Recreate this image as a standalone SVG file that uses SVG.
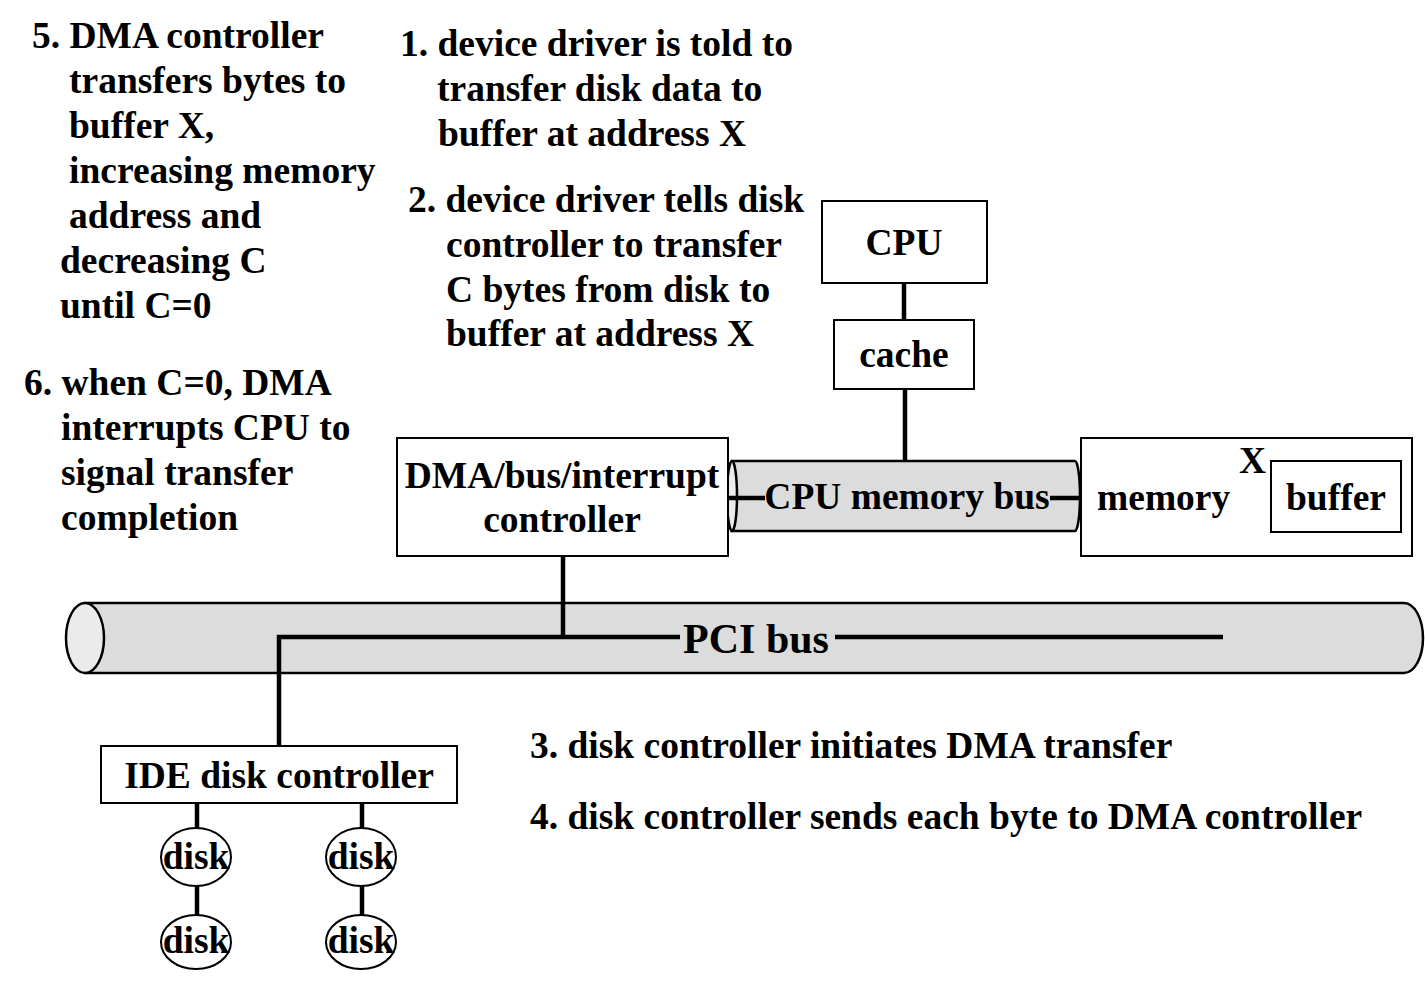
<svg xmlns="http://www.w3.org/2000/svg" width="1425" height="985" viewBox="0 0 1425 985">
<style>
text{font-family:"Liberation Serif","Times New Roman",serif;font-weight:bold;font-size:37.5px;fill:#000}
.c{text-anchor:middle}
.big{font-size:42px}
.box{fill:#fff;stroke:#000;stroke-width:2}
.bus{fill:#dcdcdc;stroke:#000;stroke-width:2.5}
.cap{fill:#ebebeb;stroke:#000;stroke-width:2.5}
.ln{stroke:#000;stroke-width:4.5;fill:none}
</style>
<rect width="1425" height="985" fill="#fff"/>
<g id="notes">
<text x="32" y="48">5. DMA controller</text>
<text x="69" y="93">transfers bytes to</text>
<text x="69" y="138">buffer X,</text>
<text x="69" y="183">increasing memory</text>
<text x="69" y="228">address and</text>
<text x="60" y="273">decreasing C</text>
<text x="60" y="318">until C=0</text>
<text x="24" y="395">6. when C=0, DMA</text>
<text x="61" y="440">interrupts CPU to</text>
<text x="61" y="485">signal transfer</text>
<text x="61" y="530">completion</text>
<text x="400" y="56">1. device driver is told to</text>
<text x="437" y="101">transfer disk data to</text>
<text x="438" y="146">buffer at address X</text>
<text x="408" y="212">2. device driver tells disk</text>
<text x="446" y="257">controller to transfer</text>
<text x="446" y="302">C bytes from disk to</text>
<text x="446" y="346">buffer at address X</text>
<text x="530" y="758">3. disk controller initiates DMA transfer</text>
<text x="530" y="829">4. disk controller sends each byte to DMA controller</text>
</g>
<g id="pci-bus">
<path class="bus" d="M85,603 H1404 A19,35 0 0 1 1404,673 H85 Z"/>
<ellipse class="cap" cx="85" cy="638" rx="19" ry="35"/>
</g>
<g id="cpu-memory-bus">
<path class="bus" d="M732,461 H1075 A5,35 0 0 1 1075,531 H732 Z"/>
<ellipse class="cap" cx="732" cy="496" rx="5" ry="35"/>
</g>
<g id="connectors">
<line class="ln" x1="904" y1="283" x2="904" y2="320"/>
<line class="ln" x1="905" y1="389" x2="905" y2="461"/>
<line class="ln" x1="727" y1="498" x2="765" y2="498"/>
<line class="ln" x1="1050" y1="498" x2="1081" y2="498"/>
<line class="ln" x1="563" y1="556" x2="563" y2="637"/>
<polyline class="ln" points="279,745 279,637 680,637"/>
<line class="ln" x1="835" y1="637" x2="1223" y2="637"/>
<line class="ln" x1="197" y1="803" x2="197" y2="828"/>
<line class="ln" x1="362" y1="803" x2="362" y2="828"/>
<line class="ln" x1="197" y1="886" x2="197" y2="916"/>
<line class="ln" x1="362" y1="886" x2="362" y2="916"/>
</g>
<text class="c" x="907" y="509">CPU memory bus</text>
<text class="c big" x="756" y="653">PCI bus</text>
<g id="cpu">
<rect class="box" x="822" y="201" width="165" height="82"/>
<text class="c" x="904" y="255">CPU</text>
</g>
<g id="cache">
<rect class="box" x="834" y="320" width="140" height="69"/>
<text class="c" x="904" y="367">cache</text>
</g>
<g id="dma-controller">
<rect class="box" x="397" y="438" width="331" height="118"/>
<text class="c" x="562" y="488">DMA/bus/interrupt</text>
<text class="c" x="562" y="532">controller</text>
</g>
<g id="memory">
<rect class="box" x="1081" y="438" width="331" height="118"/>
<text x="1097" y="510">memory</text>
<text x="1239" y="473">X</text>
<rect class="box" x="1271" y="461" width="130" height="71"/>
<text class="c" x="1336" y="510">buffer</text>
</g>
<g id="ide-controller">
<rect class="box" x="101" y="746" width="356" height="57"/>
<text class="c" x="279" y="788">IDE disk controller</text>
</g>
<g id="disk1">
<ellipse class="box" cx="196" cy="857" rx="35" ry="29"/>
<text class="c" x="196" y="869">disk</text>
</g>
<g id="disk2">
<ellipse class="box" cx="361" cy="857" rx="35" ry="29"/>
<text class="c" x="361" y="869">disk</text>
</g>
<g id="disk3">
<ellipse class="box" cx="196" cy="942" rx="35" ry="27"/>
<text class="c" x="196" y="953">disk</text>
</g>
<g id="disk4">
<ellipse class="box" cx="361" cy="942" rx="35" ry="27"/>
<text class="c" x="361" y="953">disk</text>
</g>
</svg>
